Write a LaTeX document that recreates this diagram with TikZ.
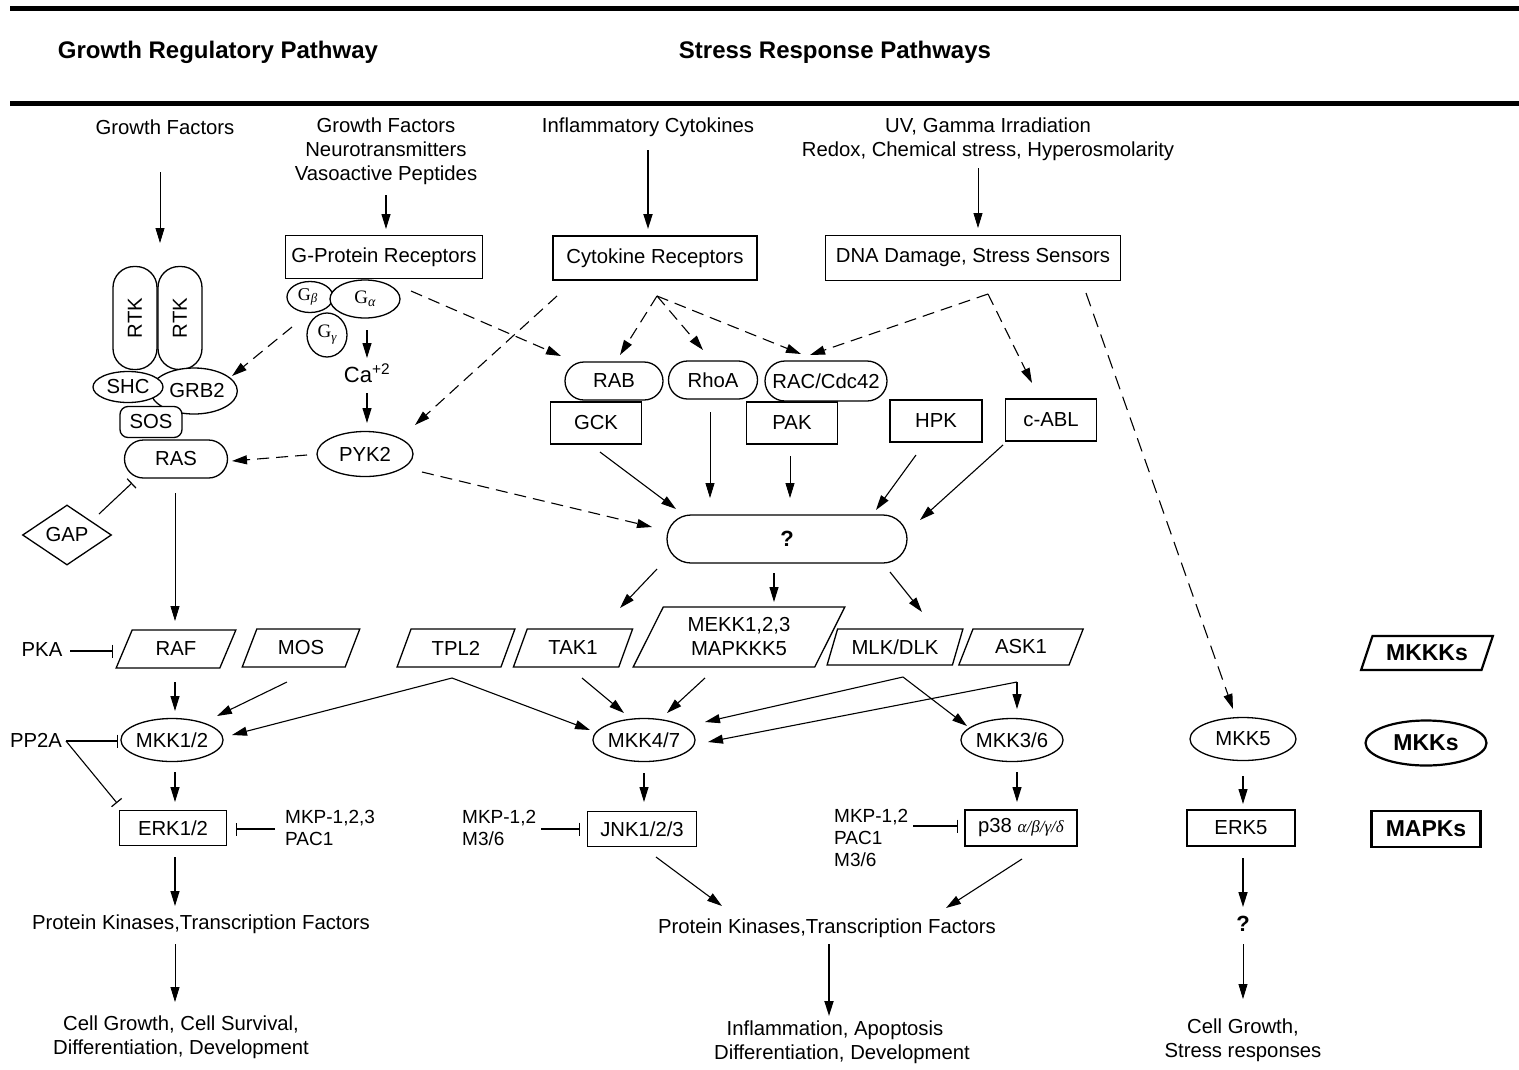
\documentclass[tikz,border=0pt]{standalone}
\usepackage{fontspec}
\setmainfont{Liberation Sans}
\newfontfamily\grk{Liberation Serif}
\usetikzlibrary{arrows.meta,shapes.geometric,shapes.misc,calc}

\begin{document}
\begin{tikzpicture}[x=1pt,y=-1pt,
  every node/.style={font=\fontsize{20.3}{24}\selectfont, inner sep=0pt},
  box/.style={draw, rectangle, line width=1.4pt, fill=white},
  ell/.style={draw, ellipse, line width=1.3pt, fill=white},
  para/.style={draw, trapezium, trapezium left angle=62, trapezium right angle=118,
               trapezium stretches=true, line width=1.3pt, fill=white, minimum height=38pt},
  pill/.style={draw, rounded rectangle, line width=1.3pt, fill=white},
  conn/.style={line width=1.1pt, -{Triangle[length=15pt,width=9pt]}},
  dsh/.style={conn, dash pattern=on 12pt off 7pt},
  inh/.style={line width=1.1pt, -{Bar[width=13pt,line width=1.2pt]}},
  hd/.style={font=\fontsize{24}{28}\selectfont\bfseries},
  legend/.style={line width=2.2pt, font=\fontsize{23}{26}\selectfont\bfseries},
  small/.style={font=\fontsize{19}{22}\selectfont}
]
\useasboundingbox (0,0) rectangle (1519,1069);

% header rules and titles
\draw[line width=5pt] (10,8) -- (1519,8);
\draw[line width=5pt] (10,103) -- (1519,103);
\node[hd] (hL) at (218,52) {Growth Regulatory Pathway};
\node[hd] (hR) at (835,52) {Stress Response Pathways};

% stimuli
\node (gf1) at (165,127) {Growth Factors};
\node[align=center] (gf2) at (386,151) {Growth Factors\\Neurotransmitters\\Vasoactive Peptides};
\node (infl) at (648,127) {Inflammatory Cytokines};
\node[align=center] (uv) at (988,139) {UV, Gamma Irradiation\\Redox, Chemical stress, Hyperosmolarity};

% receptors
\node[box, minimum width=197pt, minimum height=43pt] (gpr) at (384,257) {G-Protein Receptors};
\node[box, minimum width=204pt, minimum height=44pt] (cytr) at (655,258) {Cytokine Receptors};
\node[box, minimum width=295pt, minimum height=45pt] (dna) at (973,258) {DNA Damage, Stress Sensors};

% receptor tyrosine kinase complex
\node[draw, rounded corners=21pt, rotate=90, minimum width=103pt, minimum height=44pt,
      line width=1.3pt, fill=white] (rtk1) at (135,318) {RTK};
\node[draw, rounded corners=21pt, rotate=90, minimum width=103pt, minimum height=44pt,
      line width=1.3pt, fill=white] (rtk2) at (180,318) {RTK};
\node[ell, minimum width=72pt, minimum height=46pt] (grb2) at (194,391) {\hspace*{6pt}GRB2};
\node[ell, minimum width=70pt, minimum height=31pt] (shc) at (128,387) {SHC};
\node[draw, rounded corners=8pt, line width=1.3pt, fill=white,
      minimum width=62pt, minimum height=31pt] (sos) at (151,422) {SOS};
\node[pill, minimum width=103pt, minimum height=38pt] (ras) at (176,459) {RAS};
\node[draw, diamond, line width=1.3pt, minimum width=89pt, minimum height=60pt] (gap) at (67,535) {GAP};

% heterotrimeric G protein
\node[ell, minimum width=46pt, minimum height=31pt] (gb) at (310,297)
  {\grk\fontsize{18}{18}\selectfont G\raisebox{-2pt}{\fontsize{13}{13}\selectfont\itshape β}\hspace*{5pt}};
\node[ell, minimum width=70pt, minimum height=38pt] (ga) at (365,299)
  {\grk\fontsize{19}{19}\selectfont G\raisebox{-3pt}{\fontsize{14}{14}\selectfont\itshape α}};
\node[ell, minimum width=40pt, minimum height=44pt] (gg) at (327,335)
  {\grk\fontsize{19}{19}\selectfont G\raisebox{-4pt}{\fontsize{13}{13}\selectfont\itshape γ}};
\node[font=\fontsize{22}{24}\selectfont] (ca) at (367,373) {Ca\textsuperscript{+2}};
\node[ell, minimum width=96pt, minimum height=45pt] (pyk2) at (365,454) {PYK2};

% small GTPases and upstream kinases
\node[box, minimum width=91pt, minimum height=42pt] (gck) at (596,423) {GCK};
\node[box, minimum width=91pt, minimum height=42pt] (pak) at (792,423) {PAK};
\node[box, minimum width=92pt, minimum height=42pt] (hpk) at (936,421) {HPK};
\node[box, minimum width=91pt, minimum height=42pt] (cabl) at (1051,420) {c-ABL};
\node[pill, minimum width=98pt, minimum height=38pt] (rab) at (614,381) {RAB};
\node[pill, minimum width=89pt, minimum height=38pt] (rhoa) at (713,380) {RhoA};
\node[pill, minimum width=122pt, minimum height=40pt] (rac) at (826,381) {RAC/Cdc42};
\node[pill, minimum width=240pt, minimum height=48pt, font=\fontsize{22}{24}\selectfont\bfseries] (q) at (787,539) {?};

% MAP kinase kinase kinases
\node[para, minimum width=120pt] (raf) at (176,649) {RAF};
\node[para, minimum width=118pt] (mos) at (301,648) {MOS};
\node[para, minimum width=118pt] (tpl2) at (456,648) {TPL2};
\node[para, minimum width=120pt] (tak1) at (573,648) {TAK1};
\node[para, minimum width=212pt, minimum height=60pt, align=center] (mekk) at (739,637) {MEKK1,2,3\\MAPKKK5};
\node[para, minimum width=136pt, minimum height=36pt] (mlk) at (895,647) {MLK/DLK};
\node[para, minimum width=125pt, minimum height=36pt] (ask1) at (1021,647) {ASK1};
\node[para, legend, minimum width=132pt, minimum height=34pt] (mkkks) at (1427,653) {MKKKs};

% MAP kinase kinases
\node[ell, minimum width=100pt, minimum height=43pt] (mkk12) at (172,740) {MKK1/2};
\node[ell, minimum width=100pt, minimum height=43pt] (mkk47) at (644,740) {MKK4/7};
\node[ell, minimum width=101pt, minimum height=43pt] (mkk36) at (1012,740) {MKK3/6};
\node[ell, minimum width=106pt, minimum height=43pt] (mkk5) at (1243,739) {MKK5};
\node[ell, legend, minimum width=121pt, minimum height=45pt] (mkks) at (1426,743) {MKKs};

% MAP kinases
\node[box, minimum width=107pt, minimum height=35pt] (erk12) at (173,828) {ERK1/2};
\node[box, minimum width=109pt, minimum height=35pt] (jnk) at (642,829) {JNK1/2/3};
\node[box, minimum width=112pt, minimum height=36pt] (p38) at (1021,828)
  {p38 {\grk\itshape\fontsize{17}{17}\selectfont α/β/γ/δ}};
\node[box, minimum width=108pt, minimum height=36pt] (erk5) at (1241,828) {ERK5};
\node[box, legend, minimum width=109pt, minimum height=36pt] (mapks) at (1426,829) {MAPKs};

% regulators
\node (pka) at (42,650) {PKA};
\node (pp2a) at (36,740) {PP2A};
\node[anchor=west, align=left, small] (mkpL) at (285,828) {MKP-1,2,3\\PAC1};
\node[anchor=west, align=left, small] (mkpM) at (462,828) {MKP-1,2\\M3/6};
\node[anchor=west, align=left, small] (mkpR) at (834,838) {MKP-1,2\\PAC1\\M3/6};

% downstream targets and outcomes
\node (pktfL) at (201,924) {Protein Kinases,Transcription Factors};
\node (pktfM) at (827,928) {Protein Kinases,Transcription Factors};
\node[font=\fontsize{22}{24}\selectfont\bfseries] (qR) at (1243,924) {?};
\node[align=center] (outL) at (181,1037) {Cell Growth, Cell Survival,\\Differentiation, Development};
\node[align=center] (outM) at (835,1042) {Inflammation, Apoptosis\\\hspace*{14pt}Differentiation, Development};
\node[align=center] (outR) at (1243,1040) {Cell Growth,\\Stress responses};

% ---- connectors ----
\draw[conn, line width=0.8pt] ($(gf1)+(-5,45)$) -- ($(rtk1)+(25,-75)$);
\draw[conn] ($(gf2)+(0,44)$) -- ($(gpr)+(2,-28)$);
\draw[conn, line width=1.8pt] ($(infl)+(0,23)$) -- ($(cytr)+(-7,-29)$);
\draw[conn, line width=0.8pt] ($(uv)+(-10,29)$) -- ($(dna)+(5,-30)$);

\draw[dsh] ($(gg)+(-35,-8)$) -- ($(grb2)+(38,-15)$);
\draw[conn] ($(ga)+(2,31)$) -- ($(ca)+(0,-15)$);
\draw[conn] ($(ca)+(0,20)$) -- ($(pyk2)+(2,-31)$);
\draw[dsh] ($(pyk2)+(-58,1)$) -- ($(ras)+(56,2)$);
\draw[dsh] ($(ga)+(46,-8)$) -- ($(rab)+(-53,-25)$);
\draw[dsh] ($(cytr)+(-98,38)$) -- ($(pyk2)+(50,-29)$);

\coordinate (capex) at ($(cytr)+(2,38)$);
\draw[dsh] (capex) -- ($(rab)+(6,-26)$);
\draw[dsh] (capex) -- ($(rhoa)+(-10,-30)$);
\draw[dsh] (capex) -- ($(rac)+(-25,-27)$);
\coordinate (dapex) at ($(dna)+(15,36)$);
\draw[dsh] (dapex) -- ($(rac)+(-16,-26)$);
\draw[dsh] (dapex) -- ($(cabl)+(-19,-37)$);
\draw[dsh, dash pattern=on 14pt off 8pt] ($(dna)+(113,35)$) -- ($(mkk5)+(-10,-30)$);

\draw[conn] ($(gck)+(4,29)$) -- ($(q)+(-111,-30)$);
\draw[conn, line width=0.8pt] ($(rhoa)+(-3,32)$) -- ($(q)+(-77,-41)$);
\draw[conn, line width=0.8pt] ($(pak)+(-2,33)$) -- ($(q)+(3,-41)$);
\draw[conn] ($(hpk)+(-20,34)$) -- ($(q)+(89,-29)$);
\draw[conn] ($(cabl)+(-48,25)$) -- ($(q)+(133,-19)$);
\draw[dsh] ($(pyk2)+(57,18)$) -- ($(q)+(-135,-12)$);

\draw[conn] ($(q)+(-130,30)$) -- ($(tak1)+(47,-40)$);
\draw[conn] ($(q)+(-13,34)$) -- ($(mekk)+(35,-35)$);
\draw[conn] ($(q)+(103,33)$) -- ($(mlk)+(27,-35)$);

\draw[conn, line width=0.8pt] ($(ras)+(-1,34)$) -- ($(raf)+(-1,-28)$);
\draw[inh] ($(gap)+(32,-21)$) -- ($(ras)+(-44,24)$);
\draw[inh] ($(pka)+(28,1)$) -- ($(raf)+(-63,2)$);

\draw[conn] ($(raf)+(-1,33)$) -- ($(mkk12)+(3,-29)$);
\draw[conn] ($(mos)+(-14,34)$) -- ($(mkk12)+(45,-24)$);
\coordinate (tapex) at ($(tpl2)+(-4,30)$);
\draw[conn] (tapex) -- ($(mkk12)+(60,-5)$);
\draw[conn] (tapex) -- ($(mkk47)+(-54,-10)$);
\draw[conn] ($(tak1)+(9,30)$) -- ($(mkk47)+(-20,-27)$);
\draw[conn] ($(mekk)+(-34,41)$) -- ($(mkk47)+(23,-27)$);
\coordinate (mapex) at ($(mlk)+(8,30)$);
\draw[conn] (mapex) -- ($(mkk47)+(61,-18)$);
\draw[conn] (mapex) -- ($(mkk36)+(-45,-14)$);
\coordinate (aapex) at ($(ask1)+(-4,35)$);
\draw[conn] (aapex) -- ($(mkk36)+(5,-31)$);
\draw[conn] (aapex) -- ($(mkk47)+(64,2)$);

\draw[conn] ($(mkk12)+(3,32)$) -- ($(erk12)+(2,-26)$);
\draw[inh] ($(pp2a)+(30,1)$) -- ($(mkk12)+(-54,1)$);
\draw[inh] ($(pp2a)+(30,1)$) -- ($(erk12)+(-56,-25)$);
\draw[inh] ($(mkpL.west)+(-10,1)$) -- ($(erk12)+(63,1)$);
\draw[conn] ($(erk12)+(2,29)$) -- ($(pktfL)+(-26,-18)$);
\draw[conn, line width=0.8pt] ($(pktfL)+(-26,20)$) -- ($(outL)+(-6,-35)$);

\draw[conn] ($(mkk47)+(0,33)$) -- ($(jnk)+(2,-27)$);
\draw[inh] ($(mkpM.west)+(79,1)$) -- ($(jnk)+(-62,0)$);
\draw[conn] ($(mkk36)+(5,32)$) -- ($(p38)+(-4,-26)$);
\draw[inh] ($(mkpR.west)+(79,-12)$) -- ($(p38)+(-63,-2)$);
\draw[conn] ($(jnk)+(14,28)$) -- ($(pktfM)+(-105,-22)$);
\draw[conn] ($(p38)+(1,31)$) -- ($(pktfM)+(119,-20)$);
\draw[conn, line width=1.8pt] ($(pktfM)+(2,16)$) -- ($(outM)+(-6,-26)$);

\draw[conn] ($(mkk5)+(0,37)$) -- ($(erk5)+(2,-24)$);
\draw[conn, line width=1.6pt] ($(erk5)+(2,30)$) -- ($(qR)+(0,-17)$);
\draw[conn, line width=0.8pt] ($(qR)+(0,20)$) -- ($(outR)+(0,-41)$);

\end{tikzpicture}
\end{document}
